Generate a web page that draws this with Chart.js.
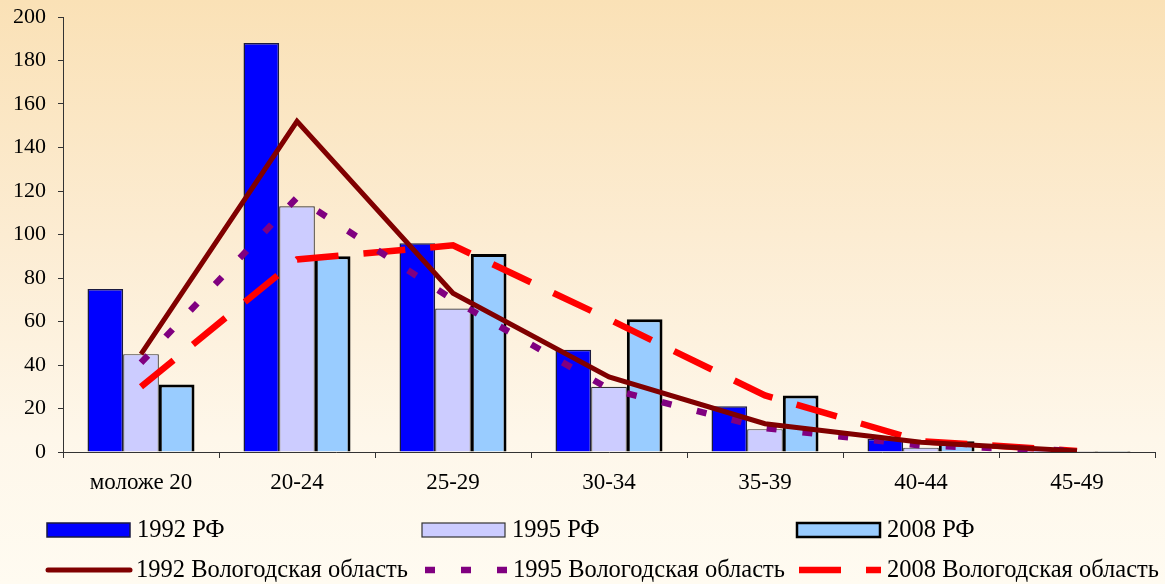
<!DOCTYPE html>
<html lang="ru">

<head>
    <meta charset="UTF-8">
    <title>Рождаемость по возрастам</title>
    <style>
        html, body {
            margin: 0;
            padding: 0;
            width: 1165px;
            height: 584px;
            overflow: hidden;
            background: linear-gradient(to bottom, #fae1b6 0%, #fcecd2 40%, #fef7ea 75%, #fffbf1 100%);
        }

        #wrap {
            position: absolute;
            left: 0;
            top: 0;
            width: 1165px;
            height: 584px;
        }
    </style>
</head>

<body>
    <div id="wrap"><canvas id="birthChart" width="1165" height="584"></canvas></div>

    <script src="https://cdn.jsdelivr.net/npm/chart.js"></script>
    <script>
        // age groups and values (per 1000 women)
        var ageGroups = ['моложе 20', '20-24', '25-29', '30-34', '35-39', '40-44', '45-49'];
        var yTicks = [0, 20, 40, 60, 80, 100, 120, 140, 160, 180, 200];

        var rf1992 = [75, 188, 96, 47, 21, 6, 1];
        var rf1995 = [45, 113, 66, 30, 10.5, 2, 0.5];
        var rf2008 = [31, 90, 91, 61, 26, 5, 0.5];
        var vol1992 = [45, 152, 73, 34.5, 13, 4.5, 0.5];
        var vol1995 = [41, 117, 70, 29, 11, 3, 0.5];
        var vol2008 = [30, 88.5, 95, 61, 26, 5, 0.5];

        var serif = "'Liberation Serif', 'Times New Roman', serif";

        // legend drawn in two rows of three columns, like the original
        var legendPos = [
            { x: 47, y: 530 }, { x: 422, y: 530 }, { x: 797, y: 530 },
            { x: 46, y: 570 }, { x: 423, y: 570 }, { x: 797, y: 570 }
        ];

        var legendPlugin = {
            id: 'gridLegend',
            afterDraw: function (chart) {
                var ctx = chart.ctx;
                ctx.save();
                ctx.font = '24.5px ' + serif;
                ctx.textBaseline = 'middle';
                chart.data.datasets.forEach(function (ds, i) {
                    var p = legendPos[i];
                    var w = 84;
                    if (ds.type === 'line') {
                        ctx.strokeStyle = ds.borderColor;
                        ctx.lineWidth = ds.borderWidth;
                        ctx.lineCap = ds.borderDash ? 'butt' : 'round';
                        ctx.setLineDash(ds.borderDash || []);
                        ctx.beginPath();
                        ctx.moveTo(p.x + 2, p.y);
                        ctx.lineTo(p.x + w, p.y);
                        ctx.stroke();
                        ctx.setLineDash([]);
                    } else {
                        ctx.fillStyle = ds.backgroundColor;
                        ctx.fillRect(p.x, p.y - 7, w - 1, 14);
                        ctx.strokeStyle = ds.borderColor;
                        ctx.lineWidth = Math.min(ds.borderWidth, 2.5);
                        ctx.strokeRect(p.x, p.y - 7, w - 1, 14);
                    }
                    ctx.fillStyle = '#000';
                    ctx.fillText(ds.label, p.x + w + 6, p.y + 1);
                });
                ctx.restore();
            }
        };

        var ctx = document.getElementById('birthChart').getContext('2d');
        var birthChart = new Chart(ctx, {
            type: 'bar',
            data: {
                labels: ageGroups,
                datasets: [
                    {
                        label: '1992 РФ', data: rf1992, order: 2,
                        backgroundColor: '#0000ff', borderColor: '#1a1a40', borderWidth: 1.5
                    },
                    {
                        label: '1995 РФ', data: rf1995, order: 2,
                        backgroundColor: '#ccccff', borderColor: '#333333', borderWidth: 1.2
                    },
                    {
                        label: '2008 РФ', data: rf2008, order: 2,
                        backgroundColor: '#99ccff', borderColor: '#000000', borderWidth: 3
                    },
                    {
                        type: 'line', label: '1992 Вологодская область', data: vol1992, order: 1,
                        borderColor: '#800000', borderWidth: 5, pointRadius: 0, tension: 0
                    },
                    {
                        type: 'line', label: '1995 Вологодская область', data: vol1995, order: 1,
                        borderColor: '#800080', borderWidth: 6.5, borderDash: [10, 26],
                        pointRadius: 0, tension: 0
                    },
                    {
                        type: 'line', label: '2008 Вологодская область', data: vol2008, order: 1,
                        borderColor: '#ff0000', borderWidth: 6.5, borderDash: [42, 25],
                        pointRadius: 0, tension: 0
                    }
                ]
            },
            options: {
                responsive: false,
                animation: false,
                devicePixelRatio: 1,
                layout: { padding: { left: 0, right: 10, top: 17, bottom: 0 } },
                datasets: {
                    bar: { categoryPercentage: 0.686, barPercentage: 1 }
                },
                plugins: {
                    legend: { display: false },
                    tooltip: { enabled: false }
                },
                scales: {
                    x: {
                        grid: { drawOnChartArea: false, color: '#333', tickLength: 6 },
                        border: { color: '#333', width: 1 },
                        ticks: { color: '#000', font: { family: serif, size: 23 }, padding: 11, maxRotation: 0 },
                        afterFit: function (scale) {
                            scale.height = 132;
                            scale.paddingLeft = 0;
                            scale.paddingRight = 0;
                        }
                    },
                    y: {
                        min: 0,
                        max: 200,
                        afterBuildTicks: function (scale) {
                            scale.ticks = yTicks.map(function (v) { return { value: v }; });
                        },
                        grid: { drawOnChartArea: false, color: '#333', tickLength: 5 },
                        border: { color: '#333', width: 1 },
                        ticks: { color: '#000', font: { family: serif, size: 22 }, padding: 12 },
                        afterFit: function (scale) {
                            scale.width = 63;
                            scale.paddingTop = 0;
                            scale.paddingBottom = 0;
                        }
                    }
                }
            },
            plugins: [legendPlugin]
        });
    </script>
</body>

</html>
